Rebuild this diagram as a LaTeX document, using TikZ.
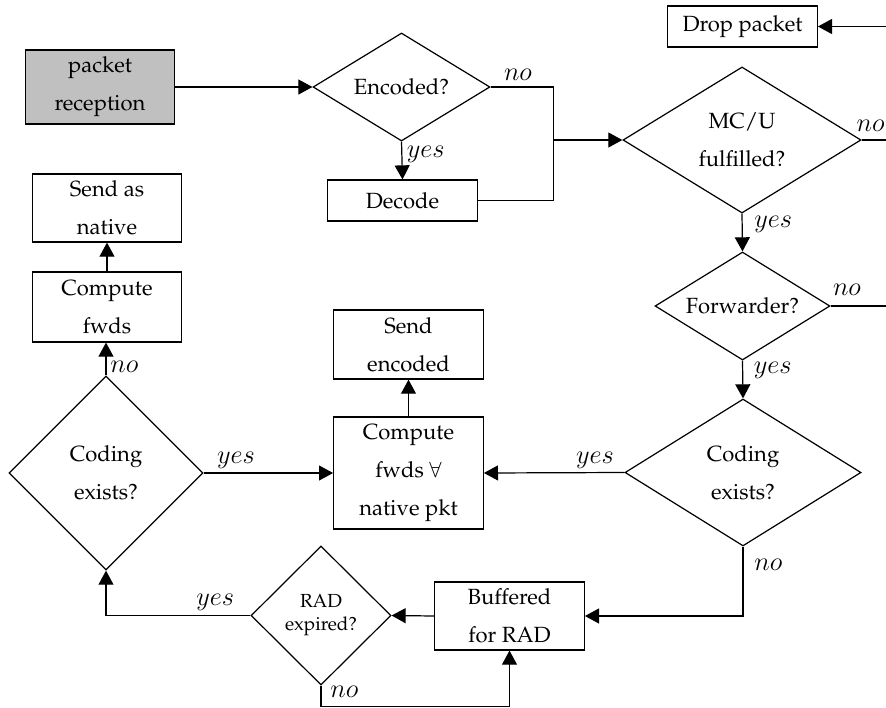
\documentclass[tikz,border=0pt]{standalone}
\usepackage[T1]{fontenc}
\usepackage{palatino}
\usetikzlibrary{shapes.geometric,arrows.meta,calc}
\definecolor{recfill}{RGB}{192,192,192}
\begin{document}
\begin{tikzpicture}[x=0.4545pt,y=-0.4545pt,
  box/.style={draw, line width=0.55pt, align=center, inner sep=0pt, minimum width=68pt, font=\fontsize{10}{17.3}\selectfont},
  dia/.style={draw, diamond, line width=0.55pt, align=center, inner sep=0pt, font=\fontsize{10}{17.3}\selectfont},
  line/.style={line width=0.55pt},
  arr/.style={line width=0.55pt, -{Triangle[length=6.4pt,width=6.8pt]}},
  lbl/.style={inner sep=0pt, font=\fontsize{13.2}{15}\selectfont}]
\useasboundingbox (0,0) rectangle (886,707);
\coordinate (edge) at (886,0);
% boxes
\node[box, fill=recfill, minimum height=33.6pt] (rec) at (100,87) {packet\\reception};
\node[box, minimum height=18.6pt] (drop) at (742.5,26.5) {Drop packet};
\node[box, minimum height=18.6pt] (dec) at (402.5,200.5) {Decode};
\node[box, minimum height=30.9pt] (nat) at (107,208) {Send as\\native};
\node[box, minimum height=31.8pt] (cmpL) at (107,307) {Compute\\fwds};
\node[box, minimum height=31.4pt] (senc) at (408.5,344.5) {Send\\encoded};
\node[box, minimum height=50.9pt] (cmpE) at (408.5,473) {Compute\\fwds $\forall$\\native pkt};
\node[box, minimum height=30.9pt] (buf) at (509.5,616) {Buffered\\for RAD};
% diamonds
\node[dia, aspect=1.64, minimum width=80.4pt, minimum height=49.1pt] (enc) at (401.5,87) {Encoded?};
\node[dia, aspect=1.63, minimum width=108.2pt, minimum height=66.4pt] (mcu) at (742,140) {MC/U\\fulfilled?};
\node[dia, aspect=1.62, minimum width=79.5pt, minimum height=49.1pt] (fwd) at (742.5,306) {Forwarder?};
\node[dia, aspect=1.6, minimum width=107.3pt, minimum height=66.8pt] (codR) at (743,472.5) {Coding\\exists?};
\node[dia, aspect=1, minimum width=88.2pt, minimum height=88.2pt] (codL) at (106,473) {Coding\\exists?};
\node[dia, aspect=1, minimum width=63.6pt, minimum height=63.2pt, font=\fontsize{8.6}{10.5}\selectfont] (rad) at (321,615.5) {RAD\\expired?};
% connectors
\draw[arr] (rec.east) -- (enc.west);
\draw[arr] (enc.south) -- (dec.north);
\draw[line] (enc.east) -- ++(63,0) coordinate (j1) |- (dec.east);
\draw[arr] (j1 |- mcu.west) -- (mcu.west);
\draw[line] (mcu.east) -- (mcu.east -| edge);
\draw[arr] (edge |- drop.east) -- (drop.east);
\draw[arr] (mcu.south) -- (fwd.north);
\draw[line] (fwd.east) -- (fwd.east -| edge);
\draw[arr] (fwd.south) -- (codR.north);
\draw[arr] (codR.west) -- (cmpE.east);
\draw[arr] (codR.south) |- (buf.east);
\draw[arr] (buf.west) -- (rad.east);
\draw[arr] (rad.south) -- ++(0,21) -| (buf.south);
\draw[arr] (rad.west) -| (codL.south);
\draw[arr] (codL.east) -- (cmpE.west);
\draw[arr] (codL.north) -- (codL.north |- cmpL.south);
\draw[arr] (cmpL.north) -- (nat.south);
\draw[arr] (cmpE.north) -- (senc.south);
% labels
\node[lbl, anchor=base west] (l1) at ($(enc.east)+(13,-7)$) {$no$};
\node[lbl, anchor=base west] (l2) at ($(enc.south)+(5,16)$) {$yes$};
\node[lbl, anchor=base east] (l3) at ($(edge |- mcu.east)+(-1,-9)$) {$no$};
\node[lbl, anchor=base west] (l4) at ($(mcu.south)+(12,14)$) {$yes$};
\node[lbl, anchor=base west] (l5) at ($(fwd.east)+(2,-11)$) {$no$};
\node[lbl, anchor=base west] (l6) at ($(fwd.south)+(11,13)$) {$yes$};
\node[lbl, anchor=base west] (l7) at ($(codR.south)+(11,24)$) {$no$};
\node[lbl, anchor=base east] (l8) at ($(codR.west)+(-10,-9)$) {$yes$};
\node[lbl, anchor=base west] (l9) at ($(codL.east)+(13,-10)$) {$yes$};
\node[lbl, anchor=base west] (l10) at ($(codL.north)+(4,-3)$) {$no$};
\node[lbl, anchor=base west] (l11) at ($(rad.south)+(9,12)$) {$no$};
\node[lbl, anchor=base east] (l12) at ($(rad.west)+(-16,-10)$) {$yes$};
\end{tikzpicture}
\end{document}
